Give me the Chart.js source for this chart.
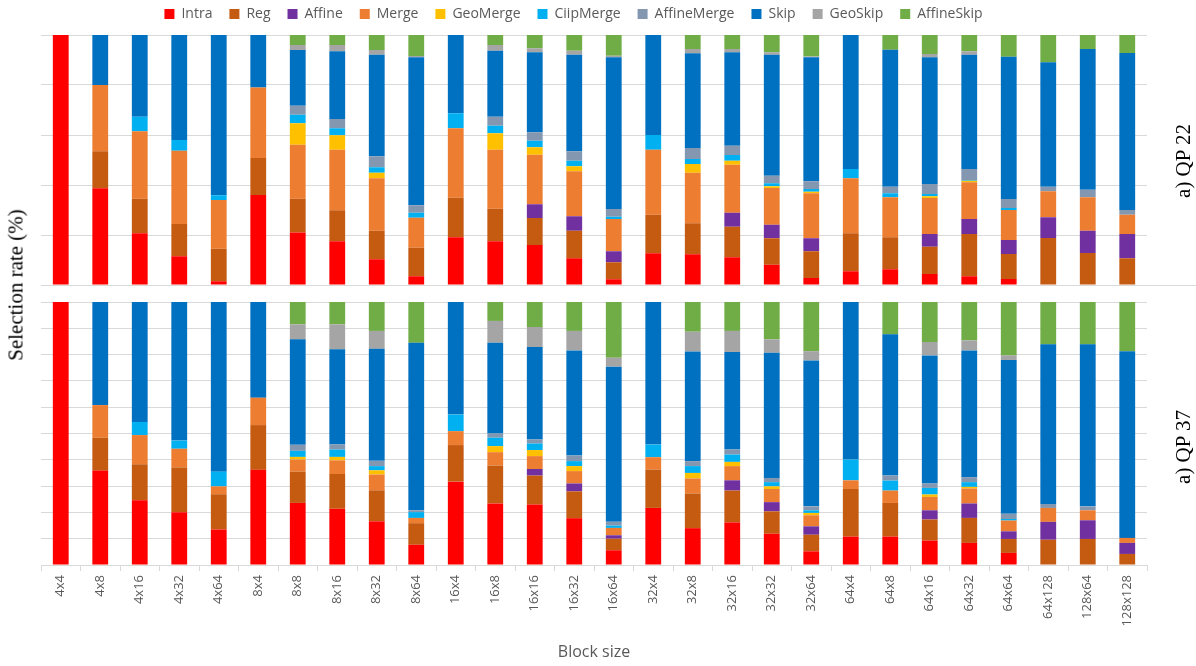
<!DOCTYPE html>
<html>
<head>
<meta charset="utf-8">
<script src="https://cdn.jsdelivr.net/npm/chart.js@4.4.1/dist/chart.umd.min.js"></script>
<style>
  body { margin: 0; background: #fff; width: 1196px; height: 666px; overflow: hidden; position: relative; }
  canvas { position: absolute; left: 0; }
  #qp22 { top: -10px; }
  #qp37 { top: 290px; }
  .vlabel {
    position: absolute;
    font-family: "Liberation Serif", "DejaVu Serif", serif;
    font-size: 21px;
    color: #000;
    white-space: nowrap;
    transform: translate(-50%, -50%) rotate(-90deg);
  }
</style>
</head>
<body>
<canvas id="qp22" width="1196" height="300"></canvas>
<canvas id="qp37" width="1196" height="376"></canvas>
<div class="vlabel" style="left:16px; top:285px;">Selection rate (%)</div>
<div class="vlabel" style="left:1183px; top:161px;">a) QP 22</div>
<div class="vlabel" style="left:1183px; top:447px;">a) QP 37</div>

<script>
// block sizes on the x axis
const blockSizes = ["4x4", "4x8", "4x16", "4x32", "4x64", "8x4", "8x8", "8x16", "8x32", "8x64",
  "16x4", "16x8", "16x16", "16x32", "16x64", "32x4", "32x8", "32x16", "32x32", "32x64",
  "64x4", "64x8", "64x16", "64x32", "64x64", "64x128", "128x64", "128x128"];

const modeNames = ["Intra", "Reg", "Affine", "Merge", "GeoMerge", "CiipMerge", "AffineMerge", "Skip", "GeoSkip", "AffineSkip"];
const modeColors = ["#FF0000", "#C55A11", "#7030A0", "#ED7D31", "#FFC000", "#00B0F0", "#8497B0", "#0070C0", "#A5A5A5", "#70AD47"];

// QP 22 selection rates (%)
const intra22 = [100, 38.7, 20.7, 11.5, 1.5, 36, 21, 17.5, 10.3, 3.5, 19.1, 17.5, 16, 10.7, 2.3, 12.7, 12.3, 11.1, 8.1, 2.8, 5.5, 6.3, 4.4, 3.5, 2.4, 0, 0, 0];
const reg22 = [0, 14.8, 13.8, 12.9, 13, 14.8, 13.5, 12.4, 11.4, 11.4, 15.8, 13, 10.8, 11, 6.8, 15.4, 12.4, 12.2, 10.6, 10.7, 15.2, 12.8, 10.9, 16.9, 10, 18.8, 12.8, 10.7];
const affine22 = [0, 0, 0, 0, 0, 0, 0, 0, 0, 0, 0, 0, 5.5, 5.8, 4.4, 0, 0, 5.6, 5.4, 5.2, 0, 0, 5.1, 6, 5.6, 8.3, 8.9, 9.7];
const merge22 = [0, 26.5, 27, 29.3, 19.5, 28.2, 21.6, 24.2, 21, 12, 27.8, 23.6, 19.8, 18, 12.9, 26, 20.2, 19.2, 14.7, 18, 22, 16, 14.4, 14.7, 12, 10.4, 13.4, 7.7];
const geoMerge22 = [0, 0, 0, 0, 0, 0, 8.6, 5.8, 2.2, 0, 0, 6.6, 3, 2, 0, 0, 3.5, 1.6, 0.7, 0.6, 0, 0, 0.7, 0.6, 0, 0, 0, 0];
const ciipMerge22 = [0, 0, 5.8, 4.3, 1.9, 0, 3.4, 2.8, 2.2, 2, 6, 3, 2.6, 2.2, 0.9, 5.9, 2, 2.3, 1.2, 1.1, 3.7, 1.6, 0.9, 0.3, 0.8, 0, 0, 0];
const affineMerge22 = [0, 0, 0, 0, 0, 0, 3.6, 3.7, 4.4, 3, 0, 3.6, 3.4, 3.8, 3.1, 0, 4.4, 3.7, 3, 3.1, 0, 2.6, 4, 4.4, 3.6, 1.8, 3, 1.9];
const skip22 = [0, 20, 32.7, 42, 64.1, 21, 22.3, 27.1, 40.6, 59.2, 31.3, 26.4, 32, 38.6, 60.7, 40, 37.9, 37.4, 48.4, 49.6, 53.6, 54.8, 50.7, 45.7, 56.9, 49.8, 56.3, 62.8];
const geoSkip22 = [0, 0, 0, 0, 0, 0, 2, 2.5, 1.9, 0.5, 0, 2.3, 1.6, 1.6, 0.6, 0, 1.7, 1.3, 1, 0.3, 0, 0, 1.3, 1.4, 0, 0, 0, 0];
const affineSkip22 = [0, 0, 0, 0, 0, 0, 4, 4, 6, 8.4, 0, 4, 5.3, 6.3, 8.3, 0, 5.6, 5.6, 6.9, 8.6, 0, 5.9, 7.6, 6.5, 8.7, 10.9, 5.6, 7.2];

// QP 37 selection rates (%)
const intra37 = [100, 35.9, 24.6, 20.1, 13.5, 36.2, 23.6, 21.4, 16.6, 7.7, 31.7, 23.4, 23, 17.8, 5.6, 21.7, 14, 16.2, 11.9, 5.2, 10.8, 10.8, 9.3, 8.4, 4.6, 0, 0, 0];
const reg37 = [0, 12.5, 13.7, 17, 13.4, 17, 11.9, 13.2, 11.8, 8.2, 13.9, 14.4, 11, 10.2, 4.4, 14.6, 13.2, 12.1, 8.5, 6.3, 18.1, 12.8, 8, 9.5, 5.3, 9.6, 9.9, 4.2];
const affine37 = [0, 0, 0, 0, 0, 0, 0, 0, 0, 0, 0, 0, 2.5, 3, 1.3, 0, 0, 3.9, 3.5, 3.2, 0, 0, 3.5, 5.5, 2.9, 6.8, 7.1, 4.2];
const merge37 = [0, 12.4, 11.1, 7.1, 3, 10.4, 4.6, 5.2, 6, 2, 5.3, 5.1, 4.9, 4.7, 2.8, 4.7, 5.7, 5.4, 5, 4.2, 3.3, 4.7, 5.1, 5.7, 4.1, 5.3, 3.8, 1.9];
const geoMerge37 = [0, 0, 0, 0, 0, 0, 1, 1.3, 1.6, 0, 0, 2.3, 2.3, 1.9, 0, 0, 2.1, 1.6, 1, 0.9, 0, 0, 0.9, 0.6, 0, 0, 0, 0];
const ciipMerge37 = [0, 0, 5, 3.1, 5.6, 0, 2.3, 2.8, 1.6, 2.2, 6.3, 3.2, 2.5, 1.9, 0.9, 4.8, 2.6, 2.8, 1.6, 1, 7.9, 3.8, 2.5, 1.8, 0.6, 0, 0, 0];
const affineMerge37 = [0, 0, 0, 0, 0, 0, 2.3, 1.9, 2, 0.7, 0, 1.6, 1.5, 2.1, 1.4, 0, 1.9, 1.9, 1.6, 1.5, 0, 1.9, 1.7, 1.9, 2, 1.5, 1.5, 0];
const skip37 = [0, 39.2, 45.6, 52.7, 64.5, 36.4, 40.1, 36.2, 42.6, 63.7, 42.8, 34.5, 35.2, 40, 59, 54.2, 41.7, 37.1, 47.6, 55.5, 59.9, 53.7, 48.7, 48.2, 58.4, 60.7, 61.6, 71];
const geoSkip37 = [0, 0, 0, 0, 0, 0, 5.7, 9.5, 6.8, 0, 0, 8.3, 7.6, 7.4, 3.4, 0, 7.5, 8, 5.1, 3.5, 0, 0, 5.1, 3.8, 1.8, 0, 0, 0];
const affineSkip37 = [0, 0, 0, 0, 0, 0, 8.5, 8.5, 11, 15.5, 0, 7.2, 9.5, 11, 21.2, 0, 11.3, 11, 14.2, 18.7, 0, 12.3, 15.2, 14.6, 20.3, 16.1, 16.1, 18.7];

const series22 = [intra22, reg22, affine22, merge22, geoMerge22, ciipMerge22, affineMerge22, skip22, geoSkip22, affineSkip22];
const series37 = [intra37, reg37, affine37, merge37, geoMerge37, ciipMerge37, affineMerge37, skip37, geoSkip37, affineSkip37];

const gridColor = "#D9D9D9";
const textColor = "#595959";
const uiFont = "'Open Sans', 'Noto Sans', sans-serif";

const makeDatasets = (series) =>
  series.map((values, i) => ({
    label: modeNames[i],
    data: values,
    backgroundColor: modeColors[i],
    borderWidth: 0,
    barPercentage: 0.4,
    categoryPercentage: 1,
  }));

// the top panel's base line runs out to the right edge
const baseLineToEdge = {
  id: "baseLineToEdge",
  afterDraw(chart) {
    const { ctx, chartArea } = chart;
    ctx.save();
    ctx.strokeStyle = gridColor;
    ctx.lineWidth = 1;
    ctx.beginPath();
    ctx.moveTo(chartArea.left, chartArea.bottom + 0.5);
    ctx.lineTo(chart.width, chartArea.bottom + 0.5);
    ctx.stroke();
    ctx.restore();
  },
};

new Chart(document.getElementById("qp22"), {
  type: "bar",
  data: { labels: blockSizes, datasets: makeDatasets(series22) },
  options: {
    responsive: false,
    animation: false,
    layout: { padding: { top: 0, right: 49, left: 0, bottom: 0 } },
    plugins: {
      tooltip: { enabled: false },
      legend: {
        position: "top",
        labels: {
          boxWidth: 10,
          boxHeight: 10,
          padding: 17,
          color: textColor,
          font: { family: uiFont, size: 14 },
        },
      },
    },
    scales: {
      x: {
        stacked: true,
        grid: { display: false },
        border: { color: gridColor },
        ticks: { display: false },
        afterFit: (s) => { s.height = 5; },
      },
      // empty spacer between legend and plot
      xTop: {
        type: "category",
        position: "top",
        grid: { display: false },
        border: { display: false },
        ticks: { display: false },
        afterFit: (s) => { s.height = 4; },
      },
      y: {
        stacked: true,
        min: 0,
        max: 100,
        ticks: { display: false, stepSize: 20 },
        grid: { color: gridColor, drawTicks: false },
        border: { display: false },
        afterFit: (s) => { s.width = 41; },
      },
    },
  },
  plugins: [baseLineToEdge],
});

new Chart(document.getElementById("qp37"), {
  type: "bar",
  data: { labels: blockSizes, datasets: makeDatasets(series37) },
  options: {
    responsive: false,
    animation: false,
    layout: { padding: { top: 12, right: 49, left: 0, bottom: 0 } },
    plugins: {
      tooltip: { enabled: false },
      legend: { display: false },
    },
    scales: {
      x: {
        stacked: true,
        grid: { display: true, drawOnChartArea: false, tickLength: 6, color: gridColor },
        border: { color: gridColor },
        ticks: {
          minRotation: 90,
          maxRotation: 90,
          padding: 4,
          color: textColor,
          font: { family: uiFont, size: 13 },
        },
        title: {
          display: true,
          text: "Block size",
          color: textColor,
          font: { family: uiFont, size: 16 },
          padding: { top: 4, bottom: 4 },
        },
        afterFit: (s) => { s.height = 101; },
      },
      y: {
        stacked: true,
        min: 0,
        max: 100,
        ticks: { display: false, stepSize: 10 },
        grid: { color: gridColor, drawTicks: false },
        border: { display: false },
        afterFit: (s) => { s.width = 41; },
      },
    },
  },
});
</script>
</body>
</html>
